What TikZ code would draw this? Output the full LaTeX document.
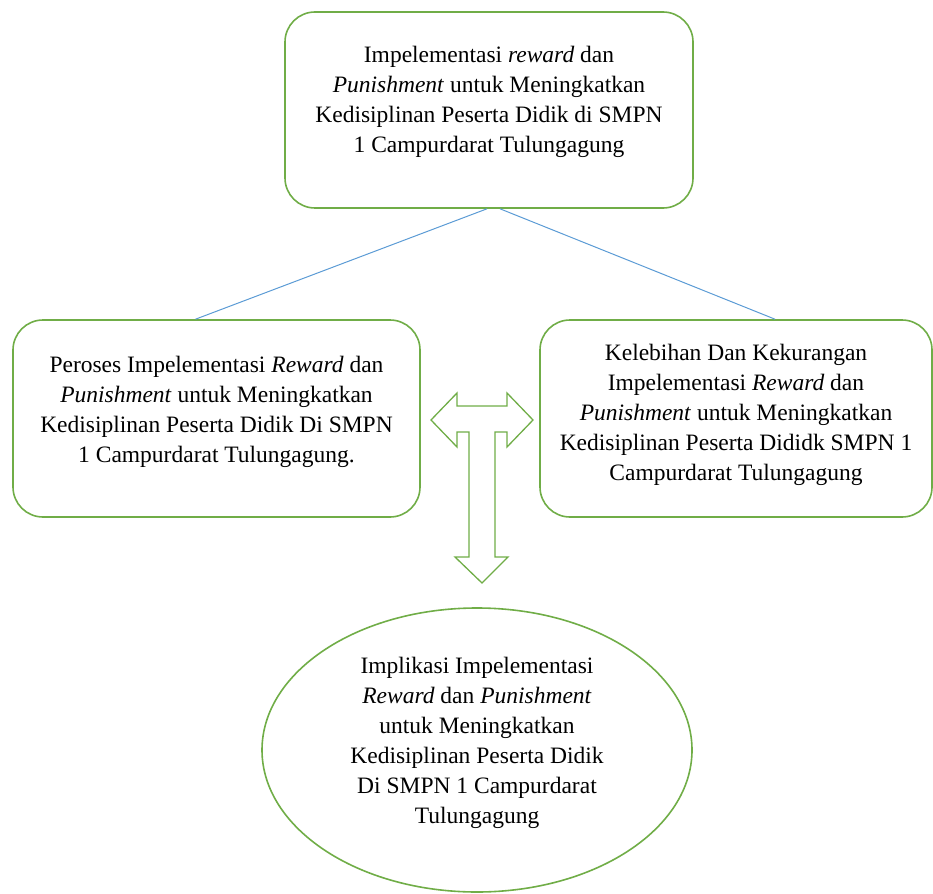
\documentclass[tikz,border=0pt]{standalone}
\usepackage{fontspec}
\setmainfont{Liberation Serif}
\usetikzlibrary{positioning,shapes.geometric,backgrounds}
\definecolor{boxgreen}{RGB}{112,173,71}
\definecolor{linkblue}{RGB}{91,155,213}
\tikzset{
  x=1pt,y=-1pt,
  topicbox/.style={draw=boxgreen,line width=1.6pt,rounded corners=30pt,
    inner sep=0pt},
  resultell/.style={ellipse,draw=boxgreen,line width=1.6pt,
    inner sep=0pt,minimum width=430pt,minimum height=284pt},
  boxtext/.style={align=center,inner sep=0pt,
    font=\fontsize{23.5}{30}\selectfont},
  link/.style={linkblue,line width=1pt},
  tarrow/.style={draw=boxgreen,line width=1.3pt,fill=white,line join=miter},
}

\begin{document}
\begin{tikzpicture}
  \useasboundingbox (0,0) rectangle (933,893);
  \node[topicbox,minimum width=408pt,minimum height=196pt] (judul) at (489,110) {};
  \node[boxtext] (judultxt) at ([yshift=8pt]judul.center)
    {Impelementasi \textit{reward} dan\\ \textit{Punishment} untuk Meningkatkan\\
     Kedisiplinan Peserta Didik di SMPN\\ 1 Campurdarat Tulungagung};
  \node[topicbox,minimum width=407pt,minimum height=197pt] (proses) at (216.5,418.5) {};
  \node[boxtext] (prosestxt) at ([yshift=7pt]proses.center)
    {Peroses Impelementasi \textit{Reward} dan\\ \textit{Punishment} untuk Meningkatkan\\
     Kedisiplinan Peserta Didik Di SMPN\\ 1 Campurdarat Tulungagung.};
  \node[topicbox,minimum width=392pt,minimum height=197pt] (lebih) at (736,418.5) {};
  \node[boxtext] (lebihtxt) at ([yshift=4pt]lebih.center)
    {Kelebihan Dan Kekurangan\\ Impelementasi \textit{Reward} dan\\
     \textit{Punishment} untuk Meningkatkan\\ Kedisiplinan Peserta Dididk SMPN 1\\
     Campurdarat Tulungagung};
  \node[resultell] (implikasi) at (477,750) {};
  \node[boxtext] (implikasitxt) at ([yshift=7pt]implikasi.center)
    {Implikasi Impelementasi\\ \textit{Reward} dan \textit{Punishment}\\
     untuk Meningkatkan\\ Kedisiplinan Peserta Didik\\ Di SMPN 1 Campurdarat\\
     Tulungagung};

  % blue links from the title
  \coordinate (jl) at ([xshift=-2pt]judul.south);
  \coordinate (jr) at ([xshift=11pt]judul.south);
  \draw[link] (jl) -- ([xshift=-21pt]proses.north);
  \draw[link] (jr) -- ([xshift=39pt]lebih.north);

  % T-shaped block arrow
  \draw[tarrow] (431,420) -- (457,393) -- (457,406) -- (507,406) -- (507,393)
    -- (533,420) -- (507,447) -- (507,432) -- (495,432) -- (495,557)
    -- (508,557) -- (482,583) -- (455,557) -- (469,557) -- (469,432)
    -- (457,432) -- (457,447) -- cycle;
\end{tikzpicture}
\end{document}
